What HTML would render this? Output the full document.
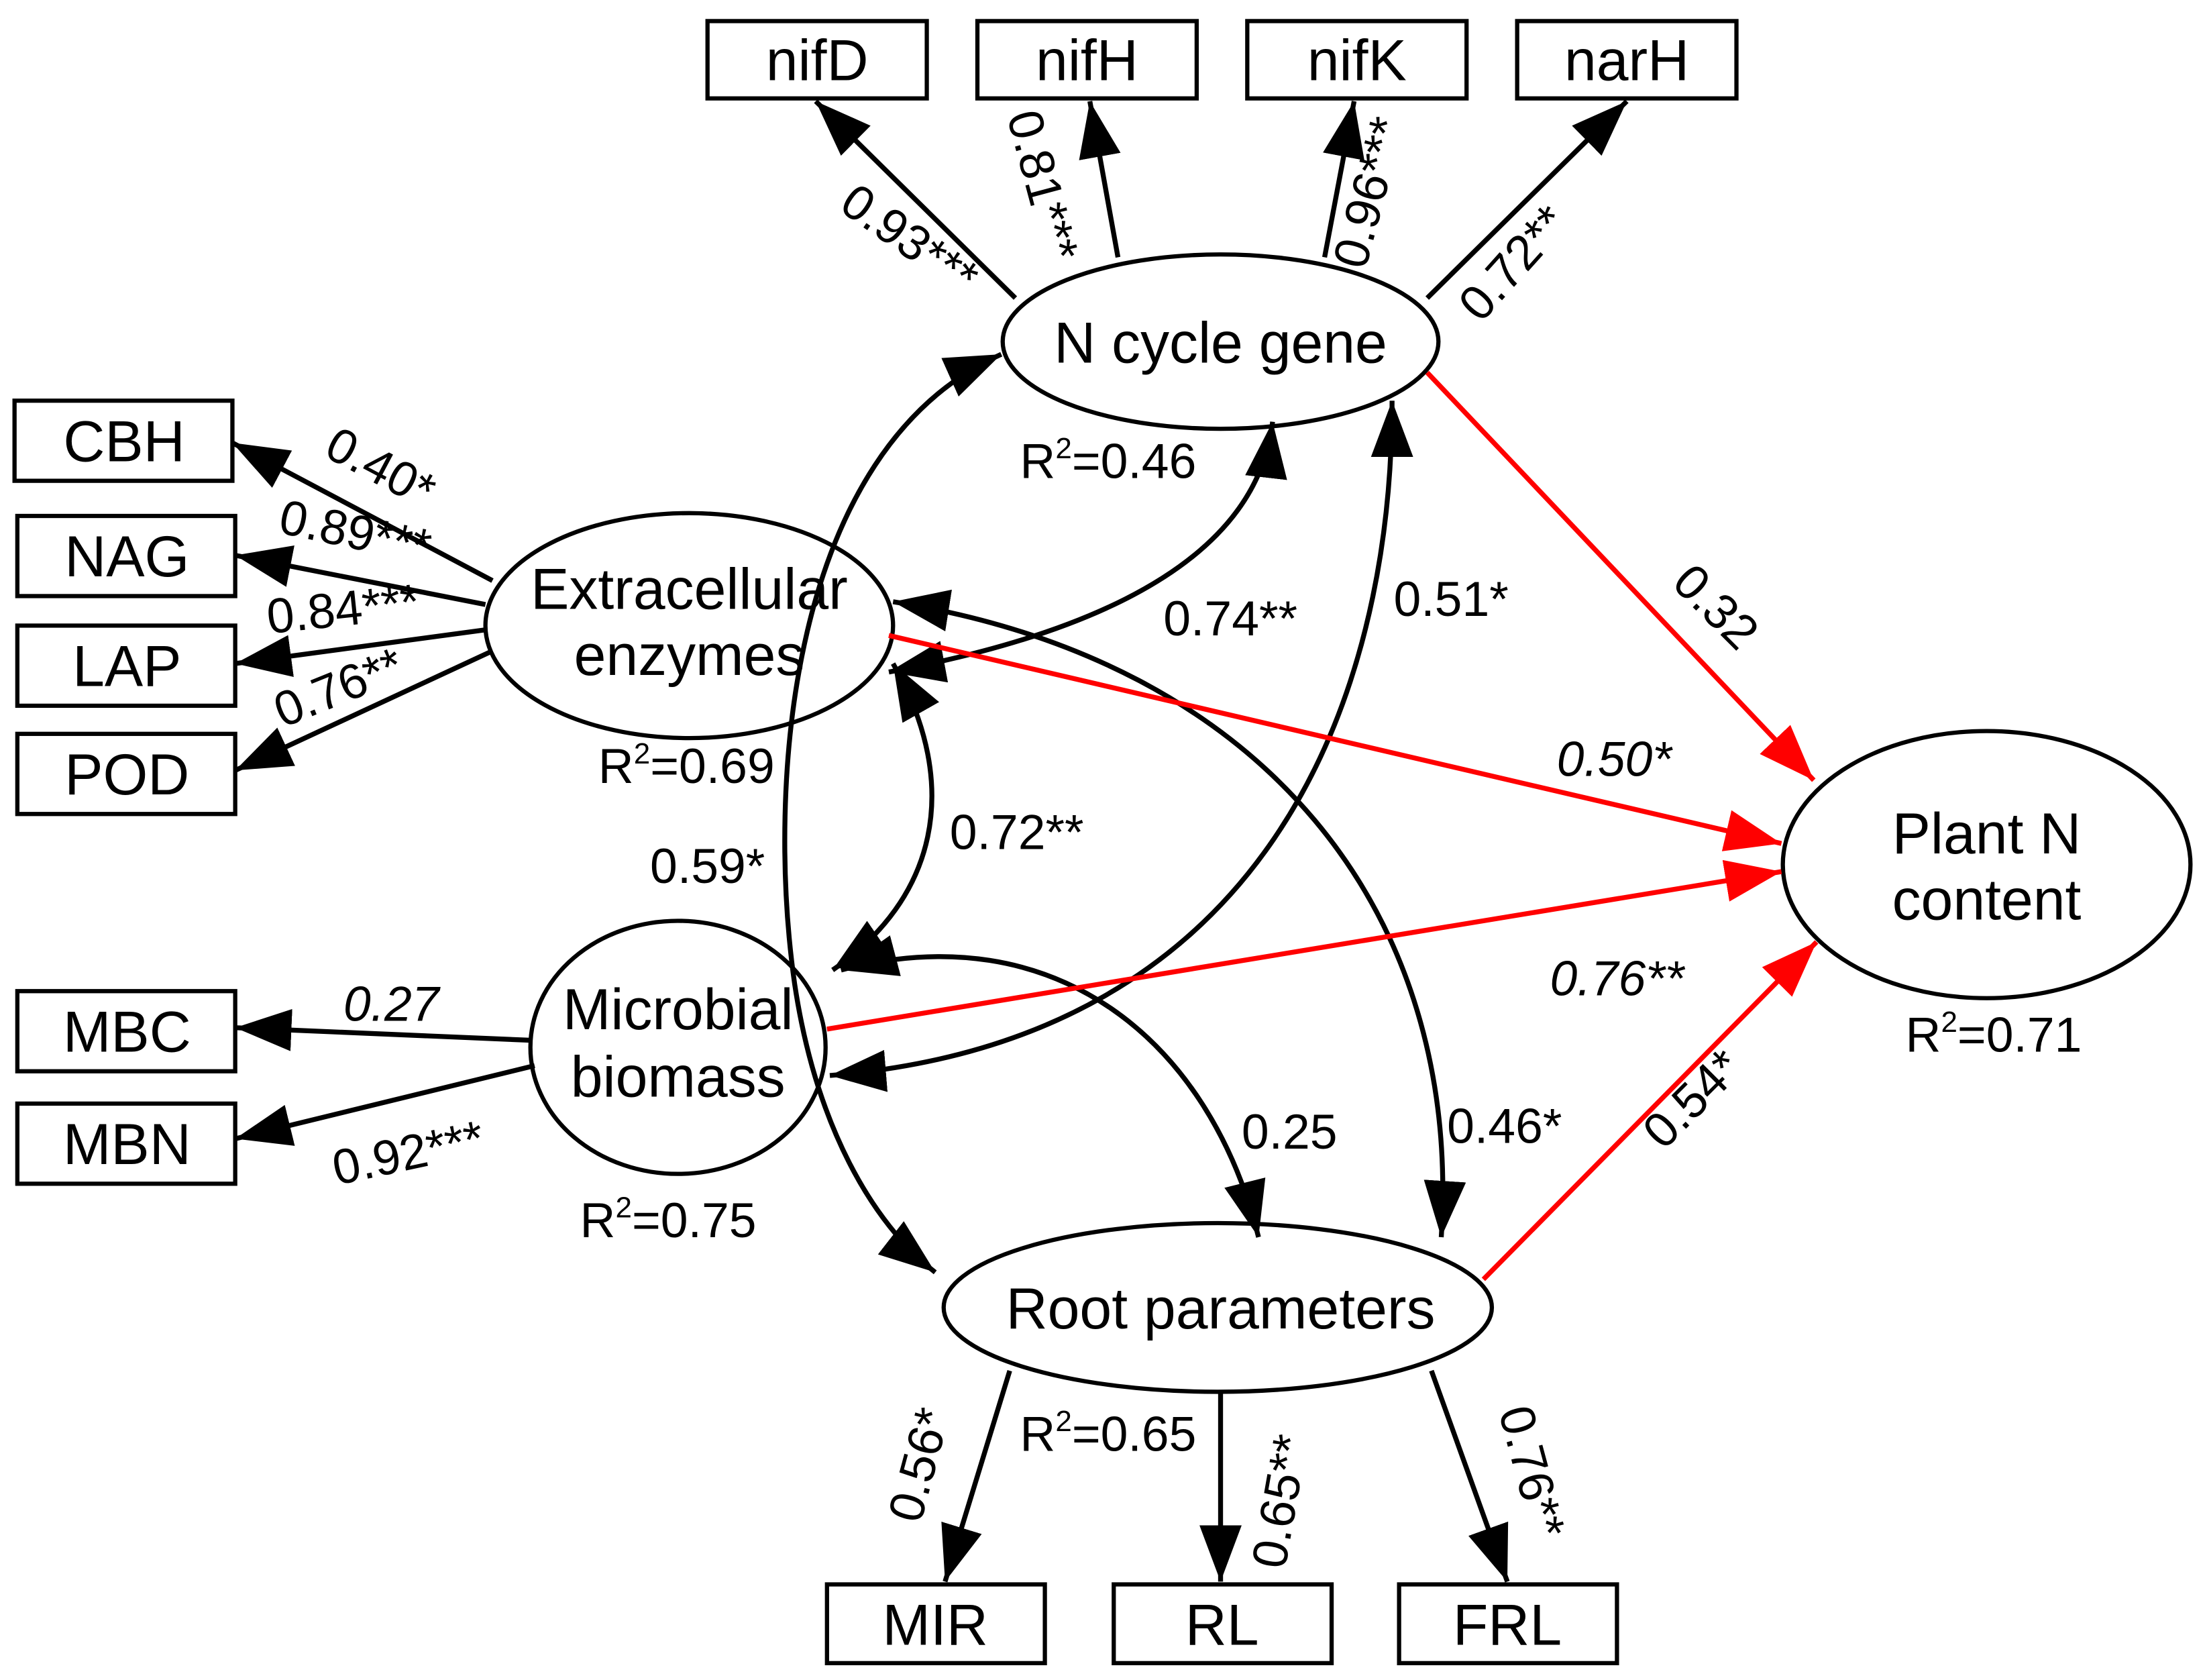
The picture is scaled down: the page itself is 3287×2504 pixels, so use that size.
<!DOCTYPE html>
<html><head><meta charset="utf-8">
<style>
html,body{margin:0;padding:0;background:#fff;}
svg{display:block;}
text{font-family:"Liberation Sans",Arial,sans-serif;fill:#000;}
</style></head>
<body>
<svg width="3287" height="2504" viewBox="0 0 1568 1195" xmlns="http://www.w3.org/2000/svg">
<defs>
<marker id="a" viewBox="0 0 40 30" refX="40" refY="15" markerWidth="40" markerHeight="30" markerUnits="userSpaceOnUse" orient="auto-start-reverse"><path d="M0,0 L40,15 L0,30 Z" fill="#000"/></marker>
<marker id="r" viewBox="0 0 40 30" refX="40" refY="15" markerWidth="40" markerHeight="30" markerUnits="userSpaceOnUse" orient="auto"><path d="M0,0 L40,15 L0,30 Z" fill="#f00"/></marker>
</defs>
<rect width="1568" height="1195" fill="#fff"/>
<g fill="#fff" stroke="#000" stroke-width="3">
<rect x="503" y="15" width="156" height="55"/><rect x="695" y="15" width="156" height="55"/>
<rect x="887" y="15" width="156" height="55"/><rect x="1079" y="15" width="156" height="55"/>
<rect x="10" y="285" width="155" height="57"/><rect x="12" y="367" width="155" height="57"/>
<rect x="12" y="445" width="155" height="57"/><rect x="12" y="522" width="155" height="57"/>
<rect x="12" y="705" width="155" height="57"/><rect x="12" y="785" width="155" height="57"/>
<rect x="588" y="1127" width="155" height="56"/><rect x="792" y="1127" width="155" height="56"/>
<rect x="995" y="1127" width="155" height="56"/>
</g>
<g fill="#fff" stroke="#000" stroke-width="3">
<ellipse cx="868" cy="243" rx="155" ry="62"/>
<ellipse cx="490" cy="445" rx="145" ry="80"/>
<ellipse cx="482" cy="745" rx="105" ry="90"/>
<ellipse cx="866" cy="930" rx="195" ry="60"/>
<ellipse cx="1413" cy="615" rx="145" ry="95"/>
</g>
<g fill="none" stroke="#000" stroke-width="3.5">
<line x1="722" y1="212" x2="580" y2="72" marker-end="url(#a)"/>
<line x1="795" y1="183" x2="775" y2="72" marker-end="url(#a)"/>
<line x1="942" y1="183" x2="963" y2="72" marker-end="url(#a)"/>
<line x1="1015" y1="212" x2="1157" y2="72" marker-end="url(#a)"/>
<line x1="350" y1="413" x2="165" y2="315" marker-end="url(#a)"/>
<line x1="345" y1="430" x2="167" y2="395" marker-end="url(#a)"/>
<line x1="345" y1="448" x2="167" y2="472" marker-end="url(#a)"/>
<line x1="350" y1="463" x2="167" y2="548" marker-end="url(#a)"/>
<line x1="378" y1="740" x2="167" y2="731" marker-end="url(#a)"/>
<line x1="380" y1="758" x2="167" y2="810" marker-end="url(#a)"/>
<line x1="718" y1="975" x2="672" y2="1125" marker-end="url(#a)"/>
<line x1="868" y1="990" x2="868" y2="1125" marker-end="url(#a)"/>
<line x1="1018" y1="975" x2="1072" y2="1125" marker-end="url(#a)"/>
<path d="M632 478 Q890 430 905 300" marker-start="url(#a)" marker-end="url(#a)"/>
<path d="M590 765 C900 740 990 500 990 285" marker-start="url(#a)" marker-end="url(#a)"/>
<path d="M635 472 C685 560 665 640 592 690" marker-start="url(#a)" marker-end="url(#a)"/>
<path d="M712 252 C560 320 545 560 565 700 C580 800 620 870 665 905" marker-start="url(#a)" marker-end="url(#a)"/>
<path d="M635 428 C900 470 1040 650 1025 880" marker-start="url(#a)" marker-end="url(#a)"/>
<path d="M598 690 C750 650 860 740 895 880" marker-start="url(#a)" marker-end="url(#a)"/>
</g>
<g stroke="#f00" stroke-width="3.5" fill="none">
<line x1="1015" y1="265" x2="1290" y2="555" marker-end="url(#r)"/>
<line x1="632" y1="452" x2="1267" y2="600" marker-end="url(#r)"/>
<line x1="588" y1="732" x2="1267" y2="620" marker-end="url(#r)"/>
<line x1="1055" y1="910" x2="1292" y2="670" marker-end="url(#r)"/>
</g>
<g font-size="41" text-anchor="middle">
<text x="581" y="57">nifD</text><text x="773" y="57">nifH</text><text x="965" y="57">nifK</text><text x="1157" y="57">narH</text>
<text x="88" y="328">CBH</text><text x="90" y="410">NAG</text><text x="90" y="488">LAP</text><text x="90" y="565">POD</text>
<text x="90" y="748">MBC</text><text x="90" y="828">MBN</text>
<text x="665" y="1170">MIR</text><text x="869" y="1170">RL</text><text x="1072" y="1170">FRL</text>
<text x="868" y="258">N cycle gene</text>
<text x="490" y="433">Extracellular</text><text x="490" y="480">enzymes</text>
<text x="482" y="732">Microbial</text><text x="482" y="780">biomass</text>
<text x="868" y="945">Root parameters</text>
<text x="1413" y="607">Plant N</text><text x="1413" y="654">content</text>
</g>
<g font-size="35" text-anchor="middle">
<text x="788" y="340">R<tspan font-size="21" dy="-14">2</tspan><tspan dy="14">=0.46</tspan></text>
<text x="488" y="557">R<tspan font-size="21" dy="-14">2</tspan><tspan dy="14">=0.69</tspan></text>
<text x="475" y="880">R<tspan font-size="21" dy="-14">2</tspan><tspan dy="14">=0.75</tspan></text>
<text x="788" y="1032">R<tspan font-size="21" dy="-14">2</tspan><tspan dy="14">=0.65</tspan></text>
<text x="1418" y="748">R<tspan font-size="21" dy="-14">2</tspan><tspan dy="14">=0.71</tspan></text>
<text x="875" y="452">0.74**</text>
<text x="1032" y="438">0.51*</text>
<text x="723" y="604">0.72**</text>
<text x="503" y="628">0.59*</text>
<text x="917" y="817">0.25</text>
<text x="1070" y="813">0.46*</text>
<text x="1150" y="708" font-style="italic">0.76**</text>
<text x="1148" y="552" font-style="italic">0.50*</text>
<text x="278" y="726" font-style="italic">0.27</text>
<text x="290" y="832" transform="rotate(-12 290 820)">0.92***</text>
<text transform="translate(1212 440) rotate(45)">0.32</text>
<text transform="translate(1212 790) rotate(-45)">0.54*</text>
<text transform="translate(640 180) rotate(35)">0.93***</text>
<text transform="translate(730 135) rotate(75)">0.81***</text>
<text transform="translate(985 140) rotate(-75)">0.96***</text>
<text transform="translate(1085 195) rotate(-48)">0.72**</text>
<text transform="translate(265 343) rotate(28)">0.40*</text>
<text transform="translate(250 390) rotate(12)">0.89***</text>
<text transform="translate(245 445) rotate(-6)">0.84***</text>
<text transform="translate(245 500) rotate(-22)">0.76**</text>
<text transform="translate(665 1045) rotate(-75)">0.56*</text>
<text transform="translate(922 1070) rotate(-80)">0.65**</text>
<text transform="translate(1078 1050) rotate(75)">0.76**</text>
</g>
</svg>
</body></html>
